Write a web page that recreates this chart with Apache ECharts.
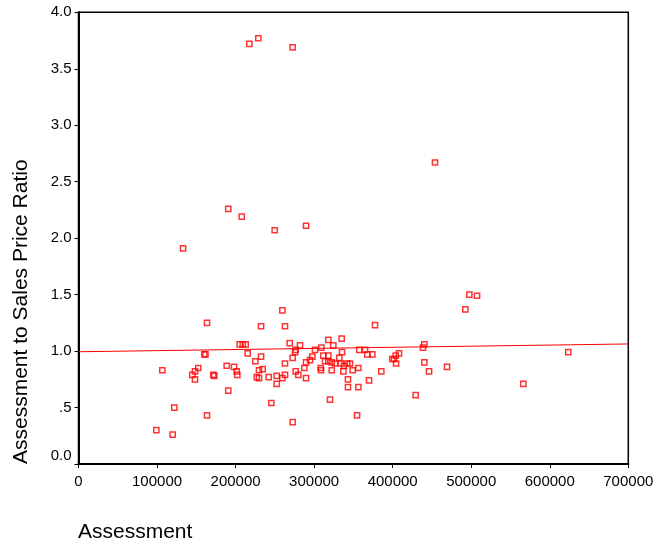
<!DOCTYPE html>
<html>
<head>
<meta charset="utf-8">
<script src="https://cdn.jsdelivr.net/npm/echarts@6/dist/echarts.min.js"></script>
<style>html,body{margin:0;padding:0;background:#fff}#c{width:657px;height:543px}</style>
</head>
<body>
<div id="c"></div>
<script>
const assessment = [
 217500,228900,272700,453900,190700,207800,249800,289700,133100,497600,
 507400,492500,259500,163600,232400,262900,377500,205200,209100,212900,
 160200,161700,215400,225100,232400,106700,152500,148300,144900,148300,
 171600,172900,188700,198000,201400,202200,229800,234500,226900,229800,
 242200,252400,252400,190700,245500,122000,163600,99100,119900,268900,
 282000,276500,275700,318100,335100,324400,309100,301100,335500,357500,
 364800,367700,374100,408100,403900,399500,401700,404300,272700,262900,
 297700,294800,289700,287500,276500,279900,262900,259500,289700,311700,
 318100,313900,318100,322400,326600,332100,333800,338000,342200,345700,
 308400,308800,322400,337200,349100,356300,343100,343100,356300,369900,
 385500,320200,354600,429300,272700,440300,438600,440300,446300,469200,
 623600,566300
];
const ratio = [
 3.72,3.77,3.69,2.67,2.26,2.19,2.07,2.11,1.91,1.50,
 1.49,1.37,1.36,1.25,1.22,1.22,1.23,1.06,1.06,1.06,
 0.97,0.97,0.98,0.91,0.95,0.83,0.85,0.82,0.79,0.75,
 0.79,0.78,0.87,0.86,0.82,0.79,0.83,0.84,0.77,0.76,
 0.77,0.78,0.71,0.65,0.54,0.50,0.43,0.30,0.26,1.07,
 1.05,1.01,0.99,1.10,1.11,1.05,1.03,1.01,0.99,1.01,
 1.01,0.97,0.97,0.98,0.96,0.93,0.93,0.89,0.94,0.89,
 0.95,0.92,0.90,0.85,0.82,0.79,0.79,0.76,0.76,0.96,
 0.96,0.91,0.91,0.90,0.89,0.94,0.89,0.87,0.89,0.89,
 0.85,0.83,0.83,0.82,0.83,0.85,0.75,0.68,0.68,0.74,
 0.82,0.57,0.43,0.61,0.37,1.06,1.03,0.90,0.82,0.86,
 0.99,0.71
];
const fitX = [0, 700000];
const fitY = [0.994, 1.063];
const xTicks = ['0','100000','200000','300000','400000','500000','600000','700000'];
const yTicks = ['0.0','.5','1.0','1.5','2.0','2.5','3.0','3.5','4.0'];
const xTitle = 'Assessment';
const yTitle = 'Assessment to Sales Price Ratio';

const chart = echarts.init(document.getElementById('c'), null, {renderer:'canvas'});
const FONT = 'Liberation Sans, Arial, sans-serif';
chart.setOption({
  animation: false,
  backgroundColor: '#fff',
  grid: {left: 78.5, right: 28.7, top: 12.3, bottom: 79, show: true, borderColor: '#000', borderWidth: 1.5, backgroundColor: 'transparent'},
  xAxis: {
    type: 'value', min: 0, max: 700000, interval: 100000,
    splitLine: {show: false},
    axisLine: {show: true, onZero: false, lineStyle: {color: '#000', width: 2}},
    axisTick: {show: true, length: 4, lineStyle: {color: '#000', width: 1}},
    axisLabel: {color: '#000', fontSize: 15, fontFamily: FONT, margin: 10,
      formatter: function(v){ return xTicks[Math.round(v/100000)]; }}
  },
  yAxis: {
    type: 'value', min: 0, max: 4, interval: 0.5,
    splitLine: {show: false},
    axisLine: {show: true, onZero: false, lineStyle: {color: '#000', width: 2}},
    axisTick: {show: true, length: 4, lineStyle: {color: '#000', width: 1}},
    axisLabel: {color: '#000', fontSize: 15, fontFamily: FONT, margin: 7,
      formatter: function(v){ const i = Math.round(v/0.5); return i === 0 ? '{z|' + yTicks[0] + '}' : yTicks[i]; },
      rich: {z: {fontSize: 15, fontFamily: FONT, color: '#000', padding: [0,0,16,0]}}}
  },
  graphic: [
    {type: 'text', x: 78, y: 532, style: {text: xTitle, font: '21px ' + FONT, fill: '#000', textAlign: 'left', textVerticalAlign: 'middle'}},
    {type: 'text', x: 21, y: 464, rotation: Math.PI/2, style: {text: yTitle, font: '21px ' + FONT, fill: '#000', textAlign: 'left', textVerticalAlign: 'middle'}}
  ],
  series: [
    {type: 'line', data: fitX.map((x,i)=>[x, fitY[i]]), showSymbol: false, symbol: 'none',
     lineStyle: {color: '#ff0000', width: 1}, z: 2},
    {type: 'scatter', data: assessment.map((x,i)=>[x, ratio[i]]), symbol: 'rect', symbolSize: 5.2,
     itemStyle: {color: 'rgba(0,0,0,0)', borderColor: '#ff0000', borderWidth: 1.5}, z: 3}
  ]
});
</script>
</body>
</html>
